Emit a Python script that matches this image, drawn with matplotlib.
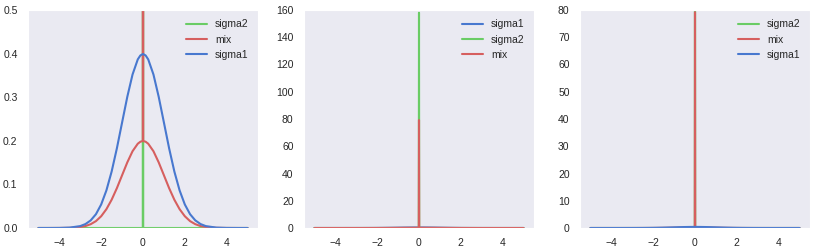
import matplotlib
matplotlib.use("Agg")
import matplotlib.pyplot as plt
import seaborn as sns

sns.set_style("dark")
plt.rcParams['font.family'] = ['Liberation Sans', 'DejaVu Sans']

# sample points (x) and density values
x = [-5.0, -4.5, -4.0, -3.5, -3.0, -2.75, -2.5, -2.25, -2.0, -1.75, -1.5, -1.25,
     -1.0, -0.75, -0.5, -0.25, -0.125, -0.01, 0.0, 0.01, 0.125, 0.25, 0.5, 0.75,
     1.0, 1.25, 1.5, 1.75, 2.0, 2.25, 2.5, 2.75, 3.0, 3.5, 4.0, 4.5, 5.0]

sigma1 = [0.0, 0.0, 0.0001, 0.0009, 0.0044, 0.0091, 0.0175, 0.0317, 0.054, 0.0863,
          0.1295, 0.1826, 0.242, 0.3011, 0.3521, 0.3867, 0.3958, 0.3989, 0.3989,
          0.3989, 0.3958, 0.3867, 0.3521, 0.3011, 0.242, 0.1826, 0.1295, 0.0863,
          0.054, 0.0317, 0.0175, 0.0091, 0.0044, 0.0009, 0.0001, 0.0, 0.0]

sigma2 = [0.0] * 18 + [158.0] + [0.0] * 18

mix = [0.0, 0.0, 0.0001, 0.0004, 0.0022, 0.0045, 0.0088, 0.0158, 0.027, 0.0432,
       0.0648, 0.0913, 0.121, 0.1506, 0.1761, 0.1933, 0.1979, 0.1995, 79.2,
       0.1995, 0.1979, 0.1933, 0.1761, 0.1506, 0.121, 0.0913, 0.0648, 0.0432,
       0.027, 0.0158, 0.0088, 0.0045, 0.0022, 0.0004, 0.0001, 0.0, 0.0]

c_blue = '#4878CF'
c_green = '#6ACC65'
c_red = '#D65F5F'

series = {'sigma1': (sigma1, c_blue), 'sigma2': (sigma2, c_green), 'mix': (mix, c_red)}
orders = [['sigma2', 'mix', 'sigma1'], ['sigma1', 'sigma2', 'mix'], ['sigma2', 'mix', 'sigma1']]
ytops = [0.5, 160, 80]

fig = plt.figure(figsize=(8.16, 2.52), dpi=100)
lefts = [28, 304, 580]
for i in range(3):
    ax = fig.add_axes([lefts[i] / 816, 1 - 228 / 252, 230 / 816, 218 / 252])
    for name in orders[i]:
        vals, col = series[name]
        ax.plot(x, vals, color=col, lw=1.5, label=name)
    ax.set_ylim(0, ytops[i])
    ax.tick_params(labelsize=7.5, colors='.15', pad=4)
    ax.legend(loc='upper right', frameon=False, fontsize=7.5)

fig.savefig('out.png', dpi=100)
